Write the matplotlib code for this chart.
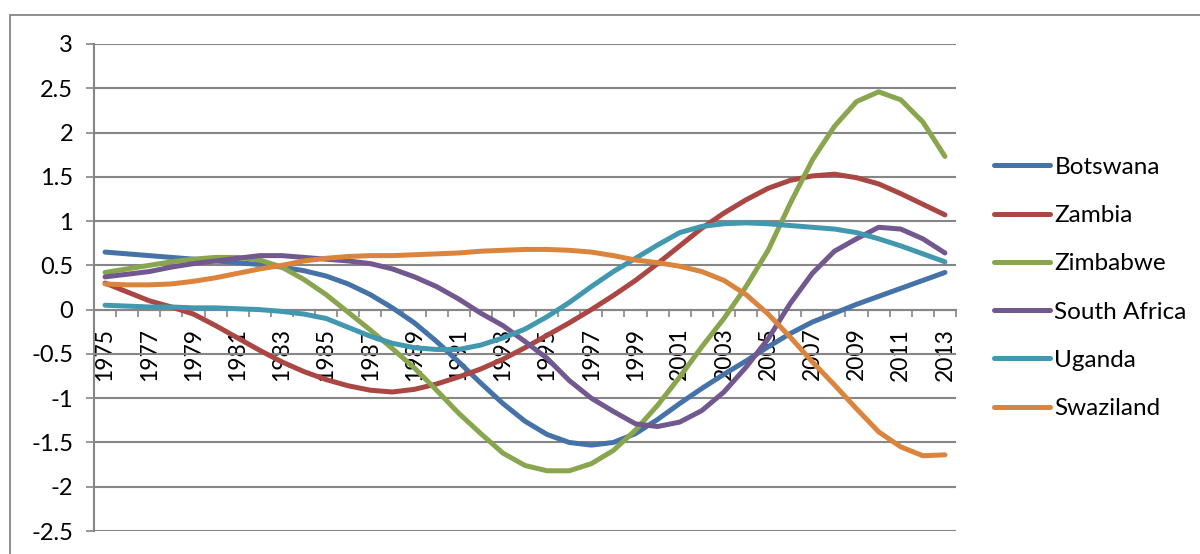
import numpy as np
import matplotlib
matplotlib.use('Agg')
import matplotlib.pyplot as plt
from matplotlib.patches import Rectangle

plt.rcParams['font.family'] = ['Lato', 'DejaVu Sans']

years = list(range(1975, 2014))

botswana = [0.65, 0.63, 0.61, 0.59, 0.57, 0.55, 0.53, 0.51, 0.48, 0.44,
            0.38, 0.29, 0.17, 0.02, -0.15, -0.36, -0.59, -0.83, -1.06, -1.26,
            -1.41, -1.50, -1.53, -1.50, -1.40, -1.24, -1.06, -0.89, -0.73, -0.58,
            -0.42, -0.27, -0.14, -0.04, 0.06, 0.15, 0.24, 0.33, 0.42]
zambia = [0.30, 0.20, 0.10, 0.03, -0.05, -0.18, -0.32, -0.46, -0.59, -0.70,
          -0.79, -0.86, -0.91, -0.93, -0.90, -0.84, -0.76, -0.67, -0.56, -0.43,
          -0.29, -0.15, 0.00, 0.16, 0.33, 0.52, 0.72, 0.92, 1.09, 1.24,
          1.37, 1.46, 1.51, 1.53, 1.49, 1.42, 1.31, 1.19, 1.07]
zimbabwe = [0.42, 0.46, 0.50, 0.54, 0.57, 0.59, 0.59, 0.56, 0.48, 0.34,
            0.17, -0.03, -0.23, -0.44, -0.66, -0.91, -1.17, -1.40, -1.62, -1.76,
            -1.82, -1.82, -1.74, -1.59, -1.36, -1.08, -0.76, -0.42, -0.10, 0.26,
            0.67, 1.20, 1.69, 2.07, 2.35, 2.46, 2.37, 2.12, 1.73]
south_africa = [0.37, 0.40, 0.43, 0.48, 0.52, 0.55, 0.58, 0.61, 0.61, 0.59,
                0.57, 0.55, 0.52, 0.46, 0.37, 0.26, 0.12, -0.04, -0.18, -0.36,
                -0.55, -0.80, -1.00, -1.15, -1.29, -1.32, -1.27, -1.14, -0.93, -0.65,
                -0.33, 0.07, 0.41, 0.66, 0.80, 0.93, 0.91, 0.80, 0.64]
uganda = [0.05, 0.04, 0.03, 0.03, 0.02, 0.02, 0.01, 0.00, -0.02, -0.05,
          -0.10, -0.20, -0.30, -0.38, -0.43, -0.45, -0.45, -0.40, -0.32, -0.22,
          -0.08, 0.08, 0.26, 0.43, 0.58, 0.73, 0.87, 0.94, 0.97, 0.98,
          0.97, 0.95, 0.93, 0.91, 0.87, 0.80, 0.72, 0.63, 0.54]
swaziland = [0.29, 0.28, 0.28, 0.29, 0.32, 0.36, 0.41, 0.46, 0.50, 0.55,
             0.58, 0.60, 0.61, 0.61, 0.62, 0.63, 0.64, 0.66, 0.67, 0.68,
             0.68, 0.67, 0.65, 0.61, 0.56, 0.53, 0.49, 0.43, 0.33, 0.17,
             -0.05, -0.31, -0.59, -0.85, -1.12, -1.38, -1.55, -1.65, -1.64]

series = [
    ('Botswana', botswana, '#4572A7'),
    ('Zambia', zambia, '#AA4643'),
    ('Zimbabwe', zimbabwe, '#89A54E'),
    ('South Africa', south_africa, '#71588F'),
    ('Uganda', uganda, '#4198AF'),
    ('Swaziland', swaziland, '#DB843D'),
]

W, H = 1200, 554
fig = plt.figure(figsize=(W / 100, H / 100), dpi=100)
ax = fig.add_axes([94 / W, 1 - 531 / H, (956 - 94) / W, (531 - 44) / H])

grid_c = '#868686'
x = np.arange(len(years))
for name, vals, c in series:
    ax.plot(x, vals, color=c, lw=3.6, label=name,
            solid_capstyle='round', solid_joinstyle='round', zorder=3)

ax.set_xlim(-0.5, len(years) - 0.5)
ax.set_ylim(-2.5, 3)
yt = np.arange(-2.5, 3.01, 0.5)
ax.set_yticks(yt)
ax.set_yticklabels([f'{v:g}' for v in yt])
ax.yaxis.grid(True, color=grid_c, lw=1.5)
ax.set_axisbelow(True)

ax.spines['top'].set_visible(False)
ax.spines['right'].set_visible(False)
ax.spines['left'].set_color(grid_c)
ax.spines['left'].set_linewidth(1.5)
ax.spines['bottom'].set_position(('data', 0))
ax.spines['bottom'].set_color(grid_c)
ax.spines['bottom'].set_linewidth(1.5)

ax.set_xticks(x[::2])
ax.set_xticklabels([str(y) for y in years[::2]], rotation=90, va='top', ha='center')
ax.set_xticks(np.arange(-0.5, len(years)), minor=True)
ax.tick_params(axis='x', which='major', length=0, pad=13, labelsize=16.5)
ax.tick_params(axis='x', which='minor', length=5, width=1.2, color=grid_c, direction='out')
ax.tick_params(axis='y', length=6, width=1.2, color=grid_c, pad=9, labelsize=17)

leg = fig.legend(loc='center left', bbox_to_anchor=(994 / W, 1 - 288 / H),
                 frameon=False, fontsize=17.5, handlelength=2.3, handletextpad=0.18,
                 labelspacing=1.12, borderpad=0, borderaxespad=0)

fig.add_artist(Rectangle((10 / W, -0.2), 2, 1 - 15 / H + 0.2, transform=fig.transFigure,
                         fill=False, edgecolor=grid_c, lw=1.3))

fig.savefig('out.png', dpi=100)
